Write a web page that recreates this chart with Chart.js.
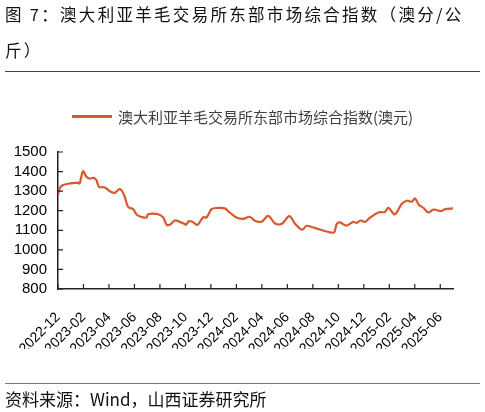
<!DOCTYPE html>
<html>
<head>
<meta charset="utf-8">
<script src="https://cdn.jsdelivr.net/npm/chart.js@4/dist/chart.umd.min.js"></script>
<style>
  html, body { margin: 0; padding: 0; background: #fff; }
  body { width: 485px; height: 412px; position: relative; overflow: hidden;
         font-family: "Noto Sans CJK SC", "Noto Sans", sans-serif; }
  #title { position: absolute; left: 5px; top: -4px; font-size: 16.5px; line-height: 36px;
           letter-spacing: 2.3px; color: #111; white-space: nowrap; }
  #sep { position: absolute; left: 5px; top: 71px; width: 475px; height: 0; border-top: 1.3px solid #444; }
  #legend { position: absolute; left: 72px; top: 105px; height: 22px; display: flex; align-items: center;
            font-size: 15px; color: #404040; white-space: nowrap; }
  #legend span.mark { display: inline-block; width: 40px; height: 3px; background: #d65a2c; margin-right: 6px; }
  #wrap { position: absolute; left: 0; top: 0; width: 485px; height: 412px; }
  #foot { position: absolute; left: 5px; top: 383px; width: 475px; border-top: 1.6px solid #777; }
  #source { position: absolute; left: 5px; top: 387px; font-size: 17px; line-height: 24px; color: #111; white-space: nowrap; }
</style>
</head>
<body>
<div id="wrap"><canvas id="chart" width="485" height="412"></canvas></div>
<div id="title">图 7：澳大利亚羊毛交易所东部市场综合指数（澳分/公<br>斤）</div>
<div id="sep"></div>
<div id="legend"><span class="mark"></span>澳大利亚羊毛交易所东部市场综合指数(澳元)</div>
<div id="foot"></div>
<div id="source">资料来源：Wind，山西证券研究所</div>
<script>
// months counted from 2022-12 (0) to 2025-07 (31)
const monthPos = [0, 0.13, 0.39, 0.92, 1.57, 1.70, 1.96, 2.23, 2.49, 2.80, 3.01, 3.22, 3.67, 4.06, 4.45, 4.79, 4.98,
  5.24, 5.50, 5.89, 6.21, 6.68, 6.94, 7.07, 7.86, 8.25, 8.51, 8.77, 9.17, 9.56, 9.95, 10.03, 10.29, 10.60, 10.95,
  11.39, 11.66, 12.05, 12.44, 13.09, 13.49, 14.01, 14.53, 15.06, 15.45, 15.98, 16.50, 17.02, 17.42, 17.68, 18.15,
  18.59, 19.04, 19.25, 19.51, 20.04, 20.56, 21.08, 21.66, 21.87, 22.13, 22.65, 23.17, 23.43, 23.75, 24.09, 24.49,
  25.14, 25.66, 25.93, 26.37, 26.58, 26.97, 27.37, 27.76, 28.02, 28.33, 28.68, 29.07, 29.46, 30.06, 30.38, 31.0]
const indexValues = [1280, 1314, 1331, 1339, 1344, 1339, 1402, 1373, 1364, 1368, 1356, 1322, 1319, 1300, 1291, 1310, 1305,
  1271, 1220, 1208, 1178, 1166, 1165, 1182, 1182, 1166, 1130, 1128, 1150, 1143, 1132, 1128, 1147, 1141, 1128,
  1166, 1166, 1208, 1214, 1212, 1190, 1165, 1158, 1169, 1149, 1144, 1174, 1135, 1130, 1139, 1172,
  1135, 1106, 1106, 1123, 1114, 1104, 1094, 1089, 1132, 1140, 1124, 1143, 1138, 1150, 1143, 1165,
  1191, 1194, 1215, 1182, 1191, 1234, 1251, 1246, 1263, 1229, 1215, 1191, 1206, 1198, 1208, 1212]
const tickLabels = ['2022-12', '2023-02', '2023-04', '2023-06', '2023-08', '2023-10', '2023-12', '2024-02',
  '2024-04', '2024-06', '2024-08', '2024-10', '2024-12', '2025-02', '2025-04', '2025-06']

const lineColor = '#d65a2c'
const axisColor = '#222'

// short tick marks drawn inside the plot, like the original
const innerTicks = {
  id: 'innerTicks',
  afterDraw(chart) {
    const { ctx, scales: { x, y } } = chart
    ctx.save()
    ctx.strokeStyle = axisColor
    ctx.lineWidth = 1.2
    ctx.beginPath()
    x.ticks.forEach(t => {
      const px = x.getPixelForValue(t.value)
      ctx.moveTo(px, x.top)
      ctx.lineTo(px, x.top - 5)
    })
    y.ticks.forEach(t => {
      const py = y.getPixelForValue(t.value)
      ctx.moveTo(y.right, py)
      ctx.lineTo(y.right + 5, py)
    })
    ctx.stroke()
    ctx.restore()
  }
}

new Chart(document.getElementById('chart'), {
  type: 'line',
  data: {
    datasets: [{
      label: '澳大利亚羊毛交易所东部市场综合指数(澳元)',
      data: monthPos.map((m, i) => ({ x: m, y: indexValues[i] })),
      borderColor: lineColor,
      backgroundColor: lineColor,
      borderWidth: 2.2,
      pointRadius: 0,
      tension: 0.35
    }]
  },
  options: {
    responsive: false,
    animation: false,
    layout: { padding: { left: 0, right: 32, top: 152, bottom: 63 } },
    plugins: { legend: { display: false }, tooltip: { enabled: false } },
    scales: {
      x: {
        type: 'linear',
        min: 0,
        max: 31,
        afterFit: s => { s.height = 60 },
        grid: { display: false },
        border: { display: true, color: axisColor, width: 1.5 },
        ticks: {
          stepSize: 2,
          includeBounds: false,
          autoSkip: false,
          maxRotation: 45,
          minRotation: 45,
          padding: 12,
          color: '#000',
          font: { family: 'Liberation Sans', size: 14 },
          callback: v => tickLabels[v / 2]
        }
      },
      y: {
        min: 800,
        max: 1500,
        afterFit: s => { s.width = 58 },
        grid: { display: false, drawTicks: false },
        border: { display: true, color: axisColor, width: 1.5 },
        ticks: {
          stepSize: 100,
          autoSkip: false,
          padding: 11,
          color: '#000',
          font: { family: 'Liberation Sans', size: 15 },
          callback: v => String(v)
        }
      }
    }
  },
  plugins: [innerTicks]
})
</script>
</body>
</html>
